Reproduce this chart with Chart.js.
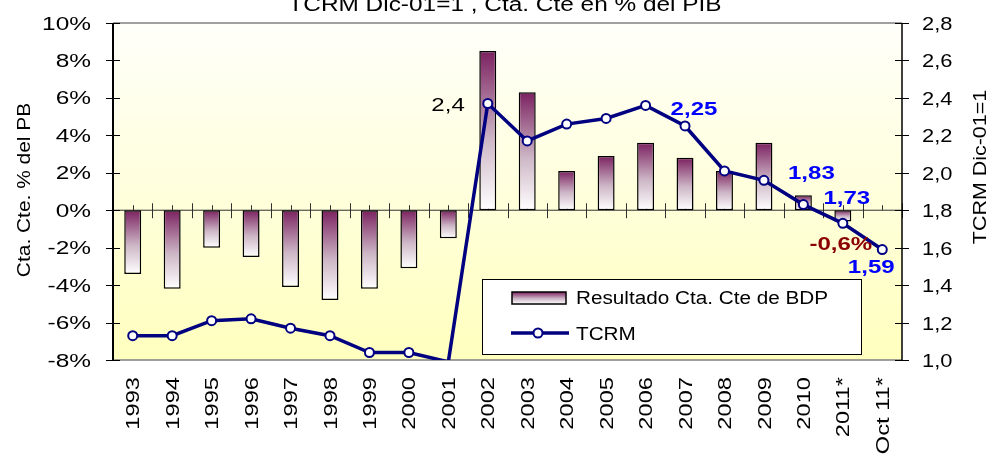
<!DOCTYPE html>
<html>
<head>
<meta charset="utf-8">
<script src="https://cdn.jsdelivr.net/npm/chart.js@4/dist/chart.umd.min.js"></script>
<style>
  html, body { margin: 0; padding: 0; background: #fff; }
  canvas { display: block; }
</style>
</head>
<body>
<canvas id="bdpChart" width="986" height="456"></canvas>
<script>
// Data
const categories = ['1993', '1994', '1995', '1996', '1997', '1998', '1999', '2000', '2001', '2002',
    '2003', '2004', '2005', '2006', '2007', '2008', '2009', '2010', '2011*', 'Oct 11*'];
const ctaCte = [-3.4, -4.2, -2.0, -2.5, -4.1, -4.8, -4.2, -3.1, -1.5, 8.5,
    6.3, 2.1, 2.9, 3.6, 2.8, 2.1, 3.6, 0.8, -0.6, null];
const tcrm = [1.13, 1.13, 1.21, 1.22, 1.17, 1.13, 1.04, 1.04, 0.99, 2.37,
    2.17, 2.26, 2.29, 2.36, 2.25, 2.01, 1.96, 1.83, 1.73, 1.59];
const leftTicks = { min: -8, max: 10, step: 2 };
const rightTicks = { min: 1.0, max: 2.8, step: 0.2 };

const FONT = "'Liberation Sans', Arial, sans-serif";
const NAVY = '#000080';

// the reference text is drawn wide, so stretch glyphs along the text direction
function drawText(ctx, s, x, y, o) {
    ctx.save();
    ctx.translate(x, y);
    if (o.rot) ctx.rotate(o.rot);
    ctx.scale(o.sx || 1, 1);
    ctx.font = (o.bold ? 'bold ' : '') + (o.size || 18.5) + 'px ' + FONT;
    ctx.fillStyle = o.color || '#000';
    ctx.textAlign = o.align || 'left';
    ctx.textBaseline = 'alphabetic';
    ctx.fillText(s, 0, 0);
    ctx.restore();
}

function barGradient(ctx, top, bottom) {
    const g = ctx.createLinearGradient(0, top, 0, bottom);
    g.addColorStop(0, '#7B2160');
    g.addColorStop(0.55, '#CDB6C6');
    g.addColorStop(1, '#FFFFFF');
    return g;
}

// Plot background, frame, ticks and all texts
const framePlugin = {
    id: 'framePlugin',
    beforeDraw(chart) {
        const { ctx, chartArea: a } = chart;
        ctx.save();
        ctx.fillStyle = '#fff';
        ctx.fillRect(0, 0, chart.width, chart.height);
        const g = ctx.createLinearGradient(0, a.top, 0, a.bottom);
        g.addColorStop(0, '#FFFFFA');
        g.addColorStop(1, '#FFFFBE');
        ctx.fillStyle = g;
        ctx.fillRect(a.left, a.top, a.right - a.left, a.bottom - a.top);
        ctx.restore();
    },
    beforeDatasetsDraw(chart) {
        const { ctx, chartArea: a, scales } = chart;
        const y0 = scales.y.getPixelForValue(0);
        ctx.save();
        // top and bottom border
        ctx.strokeStyle = '#808080';
        ctx.lineWidth = 1.5;
        ctx.beginPath();
        ctx.moveTo(a.left, a.top); ctx.lineTo(a.right, a.top);
        ctx.moveTo(a.left, a.bottom); ctx.lineTo(a.right, a.bottom);
        ctx.stroke();
        // zero line with category ticks
        ctx.strokeStyle = '#303030';
        ctx.lineWidth = 1;
        ctx.beginPath();
        ctx.moveTo(a.left, y0); ctx.lineTo(a.right, y0);
        for (let i = 0; i < categories.length; i++) {
            const xb = Math.round(scales.x.getPixelForValue(i + 0.5)) + 0.5;
            ctx.moveTo(xb, y0 - 7); ctx.lineTo(xb, y0 + 8);
            const xc = Math.round(scales.x.getPixelForValue(i)) + 0.5;
            ctx.moveTo(xc, y0 - 5); ctx.lineTo(xc, y0);
        }
        ctx.stroke();
        ctx.restore();
    },
    afterDraw(chart) {
        const { ctx, chartArea: a, scales } = chart;
        ctx.save();
        // axis lines
        ctx.strokeStyle = '#000';
        ctx.lineWidth = 2;
        ctx.beginPath();
        ctx.moveTo(a.left, a.top); ctx.lineTo(a.left, a.bottom);
        ctx.stroke();
        ctx.lineWidth = 1.5;
        ctx.beginPath();
        ctx.moveTo(a.right, a.top); ctx.lineTo(a.right, a.bottom);
        ctx.stroke();
        ctx.lineWidth = 1;
        ctx.beginPath();
        scales.y.ticks.forEach(t => {
            const py = Math.round(scales.y.getPixelForValue(t.value)) + 0.5;
            ctx.moveTo(a.left - 7, py); ctx.lineTo(a.left + 7, py);
        });
        scales.y1.ticks.forEach(t => {
            const py = Math.round(scales.y1.getPixelForValue(t.value)) + 0.5;
            ctx.moveTo(a.right - 7, py); ctx.lineTo(a.right + 7, py);
        });
        ctx.stroke();
        ctx.restore();

        // tick labels
        scales.y.ticks.forEach(t => {
            const py = scales.y.getPixelForValue(t.value);
            drawText(ctx, t.value + '%', a.left - 22, py + 6.5, { align: 'right', sx: 1.32 });
        });
        scales.y1.ticks.forEach(t => {
            const py = scales.y1.getPixelForValue(t.value);
            drawText(ctx, t.value.toFixed(1).replace('.', ','), a.right + 20, py + 7, { sx: 1.15, size: 19 });
        });
        categories.forEach((c, i) => {
            const px = scales.x.getPixelForValue(i);
            drawText(ctx, c, px + 6.6, a.bottom + 17, { rot: -Math.PI / 2, align: 'right', sx: 1.28 });
        });

        // titles
        drawText(ctx, 'TCRM Dic-01=1 , Cta. Cte en % del PIB', 505, 11, { align: 'center', sx: 1.22, size: 20 });
        drawText(ctx, 'Cta. Cte. % del PB', 30, 190, { rot: -Math.PI / 2, align: 'center', sx: 1.13 });
        drawText(ctx, 'TCRM Dic-01=1', 985.5, 167, { rot: -Math.PI / 2, align: 'center', sx: 1.16 });

        // legend box
        ctx.save();
        ctx.fillStyle = '#fff';
        ctx.strokeStyle = '#000';
        ctx.lineWidth = 1;
        ctx.fillRect(482, 279, 380, 75);
        ctx.strokeRect(482.5, 279.5, 379, 75);
        ctx.fillStyle = barGradient(ctx, 292, 304);
        ctx.fillRect(512, 292, 54, 12);
        ctx.lineWidth = 1.5;
        ctx.strokeRect(512, 292, 54, 12);
        ctx.strokeStyle = NAVY;
        ctx.lineWidth = 3.5;
        ctx.beginPath();
        ctx.moveTo(511, 333); ctx.lineTo(569, 333);
        ctx.stroke();
        ctx.fillStyle = '#fff';
        ctx.lineWidth = 2;
        ctx.beginPath();
        ctx.arc(538, 333, 4.5, 0, Math.PI * 2);
        ctx.fill(); ctx.stroke();
        ctx.restore();
        drawText(ctx, 'Resultado Cta. Cte de BDP', 576, 304, { sx: 1.15, size: 18 });
        drawText(ctx, 'TCRM', 576, 340, { sx: 1.15, size: 18 });
    }
};

// Value labels next to selected points
const valueLabels = {
    id: 'valueLabels',
    afterDatasetsDraw(chart) {
        const { ctx } = chart;
        const bars = chart.getDatasetMeta(0).data;
        const pts = chart.getDatasetMeta(1).data;
        const fmt = (v, d) => v.toFixed(d).replace('.', ',');
        const p = (i) => pts[i];
        drawText(ctx, fmt(tcrm[9], 1), p(9).x - 23, p(9).y + 7, { align: 'right', sx: 1.3 });
        const blue = { align: 'center', sx: 1.3, bold: true, color: '#0000FF' };
        drawText(ctx, fmt(tcrm[14], 2), p(14).x + 9, p(14).y - 11, blue);
        drawText(ctx, fmt(tcrm[17], 2), p(17).x + 8, p(17).y - 26, blue);
        drawText(ctx, fmt(tcrm[18], 2), p(18).x + 4, p(18).y - 19, blue);
        drawText(ctx, fmt(tcrm[19], 2), p(19).x - 11, p(19).y + 23, blue);
        drawText(ctx, fmt(ctaCte[18], 1) + '%', bars[18].x - 2, bars[18].y + 29,
            { align: 'center', sx: 1.3, bold: true, color: '#8B0000' });
    }
};

document.addEventListener('DOMContentLoaded', function() {
    const canvas = document.getElementById('bdpChart');
    new Chart(canvas, {
        type: 'bar',
        data: {
            labels: categories,
            datasets: [{
                type: 'bar',
                label: 'Resultado Cta. Cte de BDP',
                data: ctaCte,
                yAxisID: 'y',
                order: 1,
                backgroundColor: function(context) {
                    const { ctx, chartArea, scales } = context.chart;
                    if (!chartArea || !context.parsed || context.parsed.y == null) {
                        return '#7B2160';
                    }
                    const yz = scales.y.getPixelForValue(0);
                    const yv = scales.y.getPixelForValue(context.parsed.y);
                    return barGradient(ctx, Math.min(yz, yv), Math.max(yz, yv));
                },
                borderColor: '#000',
                borderWidth: 1.5,
                borderSkipped: false,
                barPercentage: 0.43,
                categoryPercentage: 1
            }, {
                type: 'line',
                label: 'TCRM',
                data: tcrm,
                yAxisID: 'y1',
                order: 0,
                borderColor: NAVY,
                borderWidth: 3.5,
                tension: 0,
                pointRadius: c => (c.parsed && c.parsed.y < 1 ? 0 : 4.5),
                pointBackgroundColor: '#fff',
                pointBorderColor: NAVY,
                pointBorderWidth: 2
            }]
        },
        options: {
            responsive: false,
            animation: false,
            layout: { padding: { top: 23, left: 0, right: 0, bottom: 0 } },
            plugins: {
                legend: { display: false },
                tooltip: { enabled: false },
                title: { display: false }
            },
            scales: {
                x: {
                    offset: true,
                    grid: { display: false },
                    border: { display: false },
                    ticks: { display: false },
                    afterFit: s => { s.height = 96; }
                },
                y: {
                    position: 'left',
                    min: leftTicks.min,
                    max: leftTicks.max,
                    ticks: { stepSize: leftTicks.step, display: false },
                    grid: { display: false },
                    border: { display: false },
                    afterFit: s => { s.width = 113; }
                },
                y1: {
                    position: 'right',
                    min: rightTicks.min,
                    max: rightTicks.max,
                    ticks: { stepSize: rightTicks.step, display: false },
                    grid: { display: false },
                    border: { display: false },
                    afterFit: s => { s.width = 84; }
                }
            }
        },
        plugins: [framePlugin, valueLabels]
    });
});
</script>
</body>
</html>
